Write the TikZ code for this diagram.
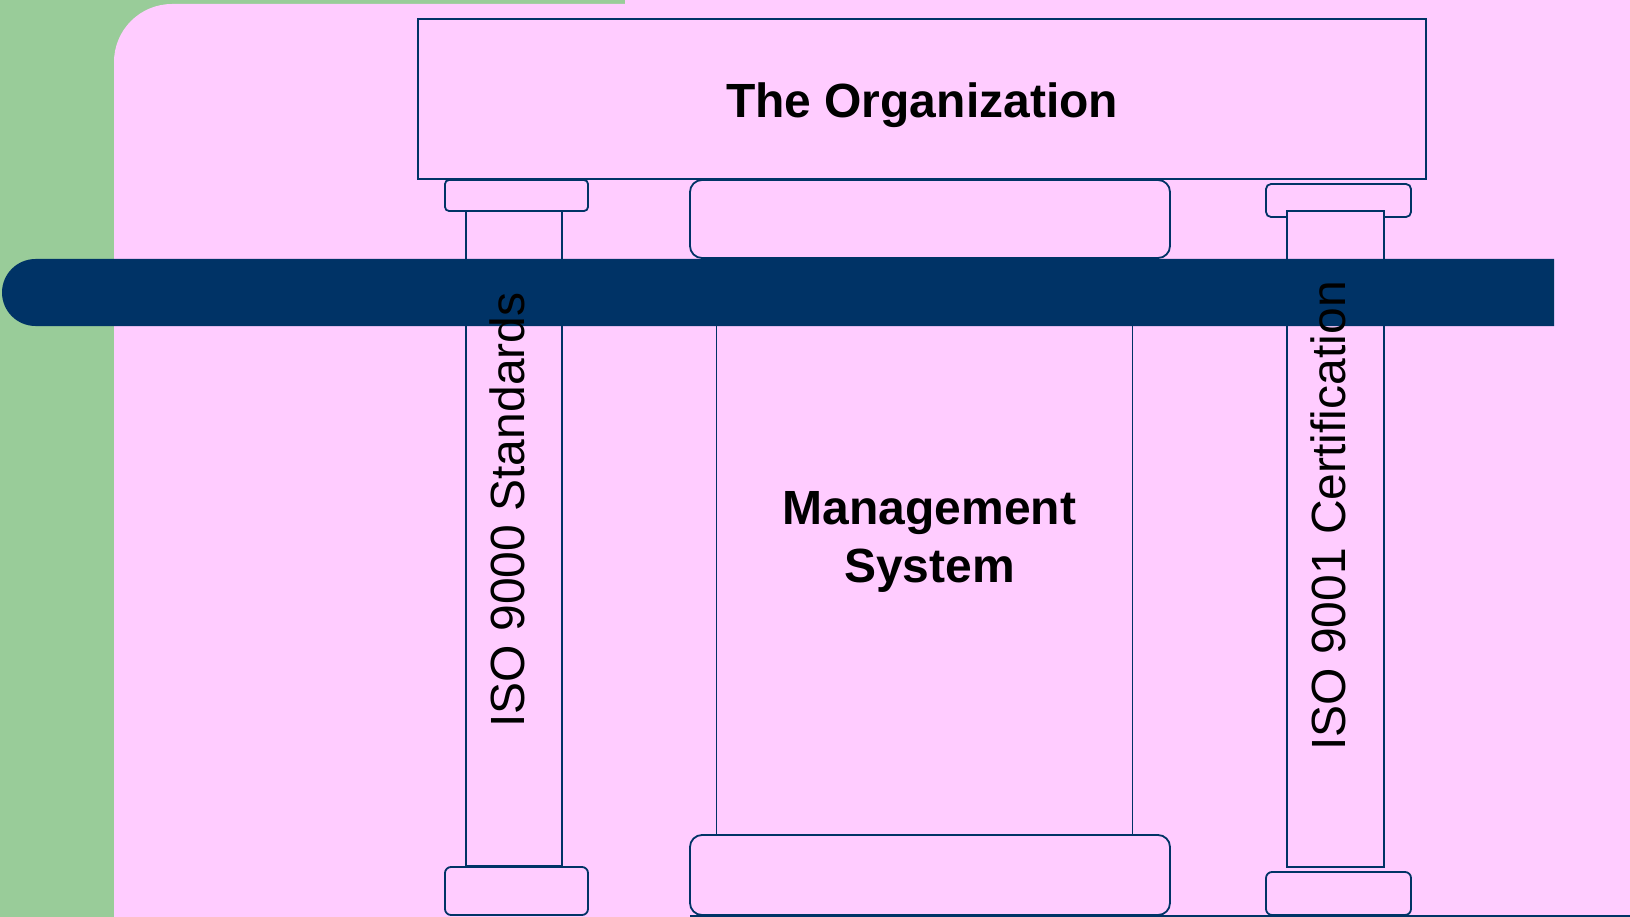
\documentclass[tikz,border=0pt]{standalone}
\usepackage{fontspec}
\setmainfont{Liberation Sans}
\definecolor{bggreen}{HTML}{99CC99}
\definecolor{bgpink}{HTML}{FFCCFF}
\definecolor{navy}{HTML}{003366}
\begin{document}
\begin{tikzpicture}[x = 1pt, y = -1pt,
  part/.style = {rectangle, draw = navy, line width = 1.8pt, fill = bgpink, inner sep = 0pt},
  big/.style = {font = \fontsize{48}{58}\selectfont}]
\useasboundingbox (0,0) rectangle (1630,917);
% background
\fill[bggreen] (0,0) rectangle (1630,917);
\fill[bgpink] (625,0) rectangle (1630,5);
\fill[bgpink] (114,917) -- (114,62) arc[start angle = 180, end angle = 270, radius = 58] -- (1630,4) -- (1630,917) -- cycle;

% roof
\node[part, minimum width = 1008pt, minimum height = 160pt](org) at (922,99){};
\node[big, anchor = base] at (922,118){\textbf{The Organization}};

% left pillar
\node[part, rounded corners = 4pt, minimum width = 143pt, minimum height = 31pt](lcap) at (516.5,195.5){};
\node[part, minimum width = 96pt, minimum height = 655pt](lshaft) at (514,538.5){};
\node[part, rounded corners = 6pt, minimum width = 143pt, minimum height = 48pt](lbase) at (516.5,891){};

% middle pillar
\node[part, rounded corners = 12pt, minimum width = 480pt, minimum height = 78pt](ccap) at (930,219){};
\node[part, minimum width = 416pt, minimum height = 577pt](cshaft) at (924.5,546.5){};
\node[part, rounded corners = 12pt, minimum width = 480pt, minimum height = 80pt](cbase) at (930,875){};

% right pillar
\node[part, rounded corners = 5pt, minimum width = 145pt, minimum height = 33pt](rcap) at (1338.5,200.5){};
\node[part, minimum width = 97pt, minimum height = 656pt](rshaft) at (1335.5,539){};
\node[part, rounded corners = 6pt, minimum width = 145pt, minimum height = 43pt](rbase) at (1338.5,893.5){};

\draw[navy, line width = 1.8pt] (690,916) -- (1630,916);

% band
\fill[navy] (1554,259) -- (35.5,259) arc[start angle = 270, end angle = 90, radius = 33.5] -- (1554,326) -- cycle;

% labels
\node[big, rotate = 90](lname) at (507,510){ISO 9000 Standards};
\node[big, rotate = 90](rname) at (1328,516){ISO 9001 Certification};
\node[big, align = center](mname) at (929.5,542){\textbf{Management}\\\textbf{System}};
\end{tikzpicture}
\end{document}
